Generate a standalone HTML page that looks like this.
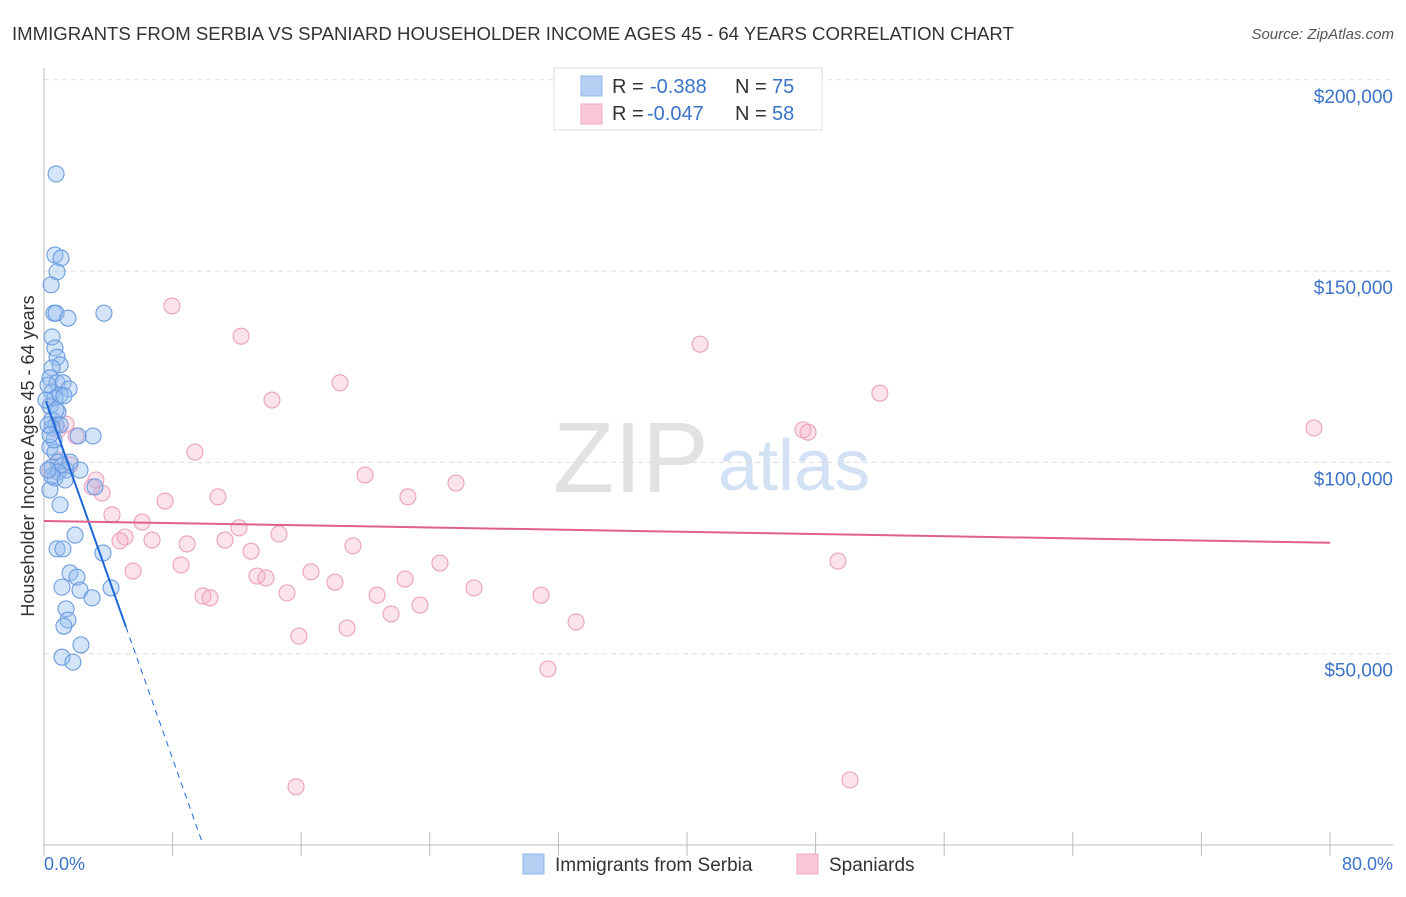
<!DOCTYPE html>
<html><head><meta charset="utf-8"><style>
body{margin:0;background:#fff;font-family:"Liberation Sans",sans-serif}
svg text{font-family:"Liberation Sans",sans-serif}
</style></head><body>
<svg width="1406" height="892" id="c">
<text x="12" y="40" font-size="18.6" fill="#333">IMMIGRANTS FROM SERBIA VS SPANIARD HOUSEHOLDER INCOME AGES 45 - 64 YEARS CORRELATION CHART</text>
<text x="1394" y="39" font-size="15" fill="#555" font-style="italic" text-anchor="end">Source: ZipAtlas.com</text>
<text x="553" y="492" font-size="100" fill="#e2e2e2" font-family="Liberation Serif">ZIP</text>
<text x="718" y="490" font-size="72" fill="#d3e1f4">atlas</text>
<text transform="translate(34,456) rotate(-90)" font-size="18" fill="#333" text-anchor="middle">Householder Income Ages 45 - 64 years</text>
<g id="grid"></g><g id="pts"></g><g id="lines"></g>
<g>
<rect x="554" y="68" width="268" height="62" fill="#fff" stroke="#ddd"/>
<rect x="581" y="76" width="21" height="20" fill="#b6d0f4" stroke="#8fb3e8"/>
<rect x="581" y="104" width="21" height="20" fill="#f9c7d6" stroke="#f0a8bf"/>
<text x="612" y="93" font-size="20" fill="#333">R =</text>
<text x="650" y="93" font-size="20" fill="#3b73c9">-0.388</text>
<text x="735" y="93" font-size="20" fill="#333">N =</text>
<text x="772" y="93" font-size="20" fill="#3b73c9">75</text>
<text x="612" y="120" font-size="20" fill="#333">R =</text>
<text x="647" y="120" font-size="20" fill="#3b73c9">-0.047</text>
<text x="735" y="120" font-size="20" fill="#333">N =</text>
<text x="772" y="120" font-size="20" fill="#3b73c9">58</text>
</g>
<g>
<rect x="523" y="854" width="21" height="20" fill="#b6d0f4" stroke="#8fb3e8"/>
<text x="555" y="871" font-size="19" fill="#333">Immigrants from Serbia</text>
<rect x="797" y="854" width="21" height="20" fill="#f9c7d6" stroke="#f0a8bf"/>
<text x="829" y="871" font-size="19" fill="#333">Spaniards</text>
</g>
<text x="44" y="870" font-size="18" fill="#3b73c9">0.0%</text>
<text x="1393" y="870" font-size="18" fill="#3b73c9" text-anchor="end">80.0%</text>
</svg>
<script>
const yTicks=[50,100,150,200];
const yTickLabels=["$50,000","$100,000","$150,000","$200,000"];
const xTicks=[0,8,16,24,32,40,48,56,64,72,80];
const serbiaX=[0.75,0.68,1.06,0.81,0.44,0.62,0.75,1.49,3.73,0.5,0.68,0.81,1.0,0.5,0.37,0.81,1.18,1.56,0.5,1.0,0.68,1.24,0.37,0.87,0.5,0.75,1.0,0.5,3.05,2.12,0.37,0.68,0.87,0.5,1.12,2.24,1.37,0.87,0.68,0.37,3.17,1.0,1.93,0.81,1.18,3.67,1.62,2.05,1.12,2.24,4.17,2.99,1.37,1.49,1.24,2.3,1.12,1.8,0.5,0.62,0.25,0.12,1.62,0.37,0.25,1.31,0.75,0.25];
const serbiaY=[175.4,154.2,153.4,149.8,146.4,139,139,137.7,139,132.8,129.9,127.5,125.5,124.7,122.1,120.8,120.8,119.2,118.4,117.6,116.8,117.4,114.7,113.2,111.1,109.8,109.8,109,106.9,106.9,104,102.7,100.1,98.8,99.1,98,98,97.5,95.9,92.8,93.6,88.9,81,77.4,77.4,76.3,71.1,70,67.4,66.6,67.2,64.6,61.7,58.8,57.2,52.3,49.1,47.8,96.4,105.9,109.8,116.3,100.1,107.2,98,95.4,113.7,120.2];
const spainX=[7.96,12.26,40.81,18.41,52.0,14.18,79.0,47.22,47.53,1.37,0.87,1.99,9.39,19.97,25.63,22.64,10.82,7.53,3.23,3.61,2.99,4.23,6.1,5.04,6.72,8.9,12.13,14.62,11.26,4.73,19.22,12.88,8.52,5.54,49.39,16.61,13.25,13.81,22.46,24.63,18.1,26.75,15.12,20.72,9.89,10.33,30.92,23.39,21.59,33.1,18.85,15.86,31.35,50.14,15.68,1.0,1.62,0.37];
const spainY=[140.9,133,130.9,120.8,118.1,116.3,109,108.5,107.9,110,108.5,106.9,102.7,96.7,94.6,91,91,89.9,95.4,92,93.6,86.3,84.4,80.5,79.7,78.7,82.9,81.3,79.7,79.5,78.2,76.8,73.2,71.6,74.2,71.4,70.3,69.8,69.5,73.7,68.7,67.2,65.9,65.3,65.1,64.6,65.3,62.7,60.4,58.3,56.7,54.6,46,17,15.2,100.6,99.3,98];
const serbiaTrend=[[0.12,116],[5.1,57],[9.9,0]];
const spainTrend=[[0,84.7],[80,79.0]];
const X=p=>44+p*16.075, Y=v=>845-v*3.826;
const NS="http://www.w3.org/2000/svg";
function mk(t,a,parent){const e=document.createElementNS(NS,t);for(const k in a)e.setAttribute(k,a[k]);parent.appendChild(e);return e;}
const grid=document.getElementById('grid');
yTicks.forEach((v,i)=>{
 const l=mk('line',{x1:44,x2:1393,y1:Y(v),y2:Y(v),stroke:'#ddd','stroke-dasharray':'5,4'},grid);
 
 
 const t=mk('text',{x:1393,y:Y(v)+23,'font-size':19,fill:'#3b73c9','text-anchor':'end'},grid);
 t.textContent=yTickLabels[i];
 
 
});
const ax=mk('line',{x1:44,x2:44,y1:68,y2:845,stroke:'#bbb'},grid);


const bx=mk('line',{x1:44,x2:1393,y1:845,y2:845,stroke:'#bbb'},grid);


xTicks.forEach(p=>{
 const t=mk('line',{x1:X(p),x2:X(p),y1:832,y2:856,stroke:'#bbb'},grid);
 
 
});
const pts=document.getElementById('pts');
spainX.forEach((p,i)=>{
 const c=mk('circle',{cx:X(p),cy:Y(spainY[i]),r:8,fill:'rgba(245,175,198,0.35)',stroke:'#eba0bb','stroke-width':1.1},pts);
 
 
});
serbiaX.forEach((p,i)=>{
 const c=mk('circle',{cx:X(p),cy:Y(serbiaY[i]),r:8,fill:'rgba(150,190,240,0.4)',stroke:'#6a9be0','stroke-width':1.1},pts);
 
 
});
const lines=document.getElementById('lines');
const b1=mk('line',{x1:X(serbiaTrend[0][0]),y1:Y(serbiaTrend[0][1]),x2:X(serbiaTrend[1][0]),y2:Y(serbiaTrend[1][1]),stroke:'#1f66d6','stroke-width':2},lines);


const b2=mk('line',{x1:X(serbiaTrend[1][0]),y1:Y(serbiaTrend[1][1]),x2:X(serbiaTrend[2][0]),y2:Y(serbiaTrend[2][1]),stroke:'#1f66d6','stroke-width':1,'stroke-dasharray':'6,5'},lines);


const p1=mk('line',{x1:X(spainTrend[0][0]),y1:Y(spainTrend[0][1]),x2:X(spainTrend[1][0]),y2:Y(spainTrend[1][1]),stroke:'#e0608c','stroke-width':2},lines);


</script>
</body></html>
